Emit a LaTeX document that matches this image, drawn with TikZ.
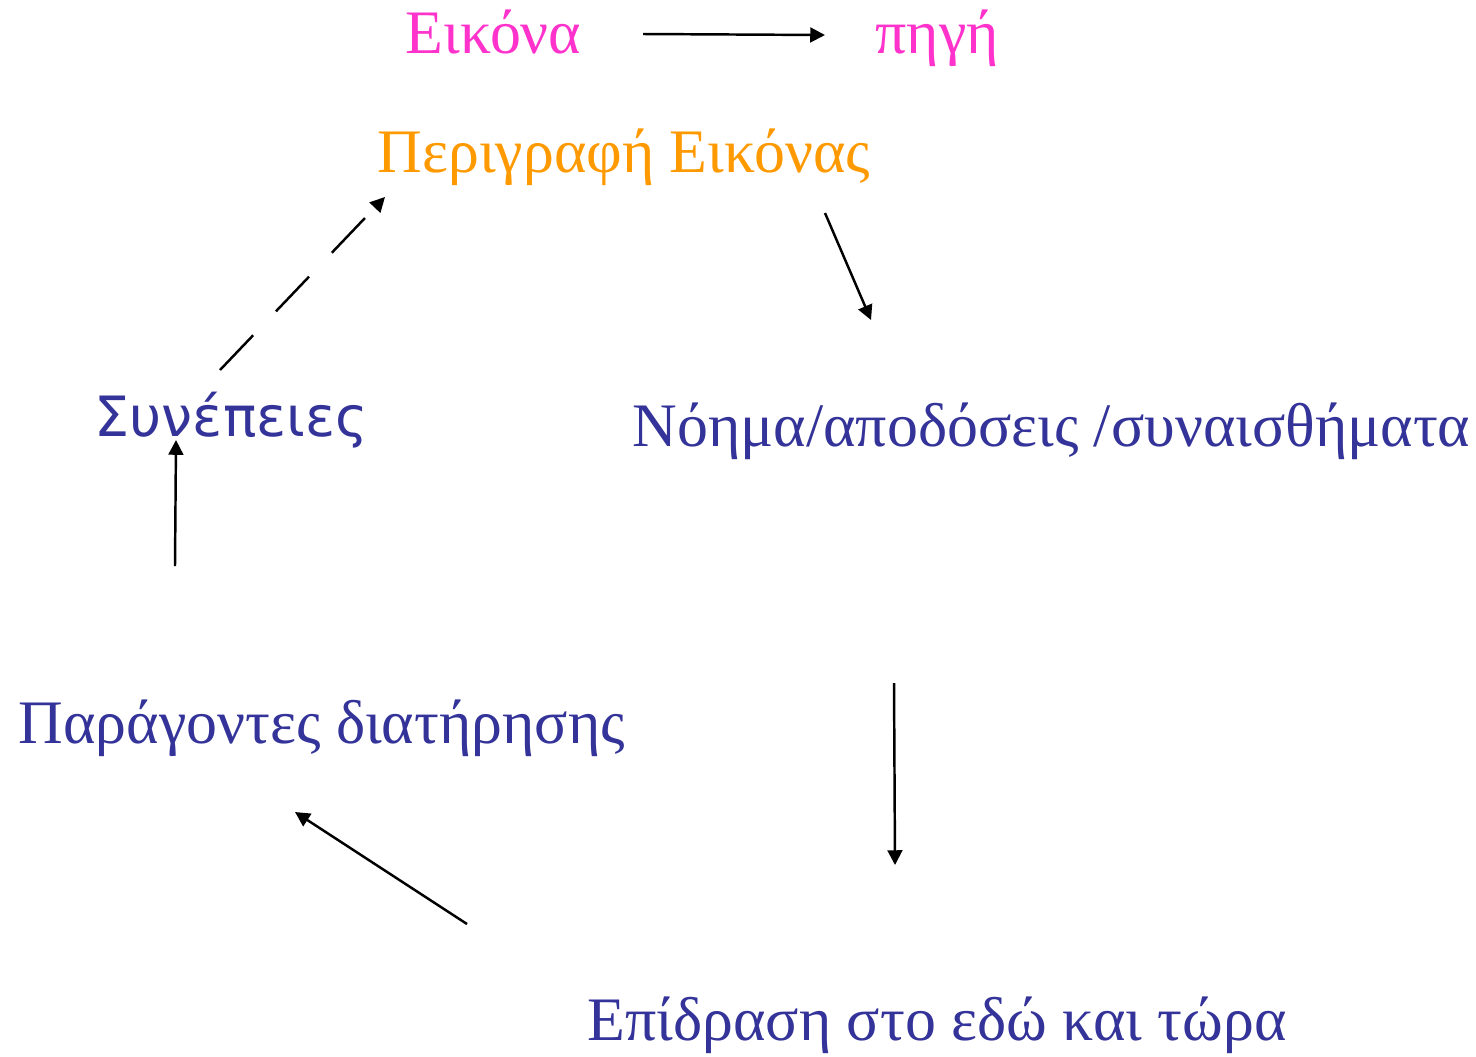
\documentclass[tikz,border=0pt]{standalone}
\usepackage{fontspec}
\setmainfont{Liberation Serif}
\newfontfamily\grsans{DejaVu Sans}
\usetikzlibrary{arrows.meta}
\definecolor{pinktxt}{HTML}{FF33CC}
\definecolor{orangetxt}{HTML}{FF9900}
\definecolor{bluetxt}{HTML}{333399}
\tikzset{
	lbl/.style={inner sep=0pt, anchor=base west, font=\fontsize{17.6}{20}\selectfont},
	arr/.style={-{Triangle[length=4.2pt,width=4.2pt]}, line width=0.7pt},
}
\begin{document}
\begin{tikzpicture}
		\useasboundingbox (0,0) rectangle (14.76,-10.56);
		\node[lbl, text=pinktxt] (eikona) at (4.05,-0.53) {Εικόνα};
		\node[lbl, text=pinktxt] (pigi) at (8.75,-0.53) {πηγή};
		\node[lbl, text=orangetxt] (perigrafi) at (3.77,-1.72) {Περιγραφή Εικόνας};
		\node[lbl, text=bluetxt] (noima) at (6.32,-4.46) {Νόημα/αποδόσεις /συναισθήματα};
		\node[lbl, text=bluetxt, font=\grsans\fontsize{15.8}{18}\selectfont] (synepeies) at (0.94,-4.36) {Συνέπειες};
		\node[lbl, text=bluetxt] (paragontes) at (0.18,-7.43) {Παράγοντες διατήρησης};
		\node[lbl, text=bluetxt] (epidrasi) at (5.87,-10.40) {Επίδραση στο εδώ και τώρα};
		% free ends of the arrows
		\coordinate (a1) at (6.43,-0.34);
		\coordinate (b1) at (8.25,-0.35);
		\coordinate (a2) at (8.25,-2.13);
		\coordinate (b2) at (8.71,-3.20);
		\coordinate (a3) at (8.94,-6.83);
		\coordinate (b3) at (8.95,-8.65);
		\coordinate (a4) at (4.67,-9.24);
		\coordinate (b4) at (2.95,-8.12);
		\coordinate (a5) at (1.75,-5.66);
		\coordinate (b5) at (1.76,-4.40);
		\coordinate (a6) at (2.20,-3.70);
		\coordinate (b6) at (3.85,-1.97);
		\draw[arr] (a1) -- (b1);
		\draw[arr] (a2) -- (b2);
		\draw[arr] (a3) -- (b3);
		\draw[arr] (a4) -- (b4);
		\draw[arr] (a5) -- (b5);
		\draw[arr, dash pattern=on 0.48cm off 0.33cm] (a6) -- (b6);
	\end{tikzpicture}
\end{document}
